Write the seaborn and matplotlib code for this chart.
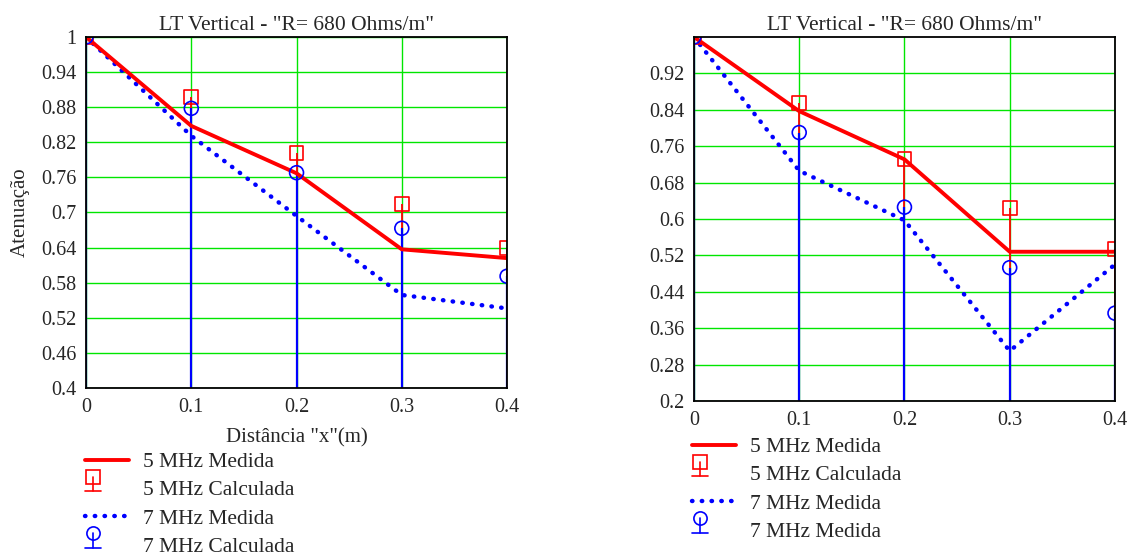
import numpy as np
import pandas as pd
import matplotlib
matplotlib.use("Agg")
import matplotlib.pyplot as plt
import seaborn as sns
from matplotlib.lines import Line2D
from matplotlib.legend_handler import HandlerBase

# Distance along the line (m)
distancia = [0.0, 0.1, 0.2, 0.3, 0.4]

# Left panel
esq_5mhz_medida = [1.000, 0.848, 0.767, 0.637, 0.622]
esq_5mhz_calculada = [1.000, 0.897, 0.801, 0.715, 0.639]
esq_7mhz_medida = [1.000, 0.831, 0.694, 0.559, 0.536]
esq_7mhz_calculada = [1.000, 0.878, 0.768, 0.673, 0.591]
esq_yticks = [0.4, 0.46, 0.52, 0.58, 0.64, 0.7, 0.76, 0.82, 0.88, 0.94, 1.0]
esq_yticklabels = ["0.4", "0.46", "0.52", "0.58", "0.64", "0.7", "0.76",
                   "0.82", "0.88", "0.94", "1"]
esq_labels = ["5 MHz Medida", "5 MHz Calculada", "7 MHz Medida", "7 MHz Calculada"]

# Right panel
dir_5mhz_medida = [1.000, 0.837, 0.731, 0.528, 0.528]
dir_5mhz_calculada = [1.000, 0.854, 0.731, 0.624, 0.535]
dir_7mhz_medida = [1.000, 0.706, 0.597, 0.310, 0.500]
dir_7mhz_calculada = [1.000, 0.790, 0.626, 0.493, 0.393]
dir_yticks = [0.2, 0.28, 0.36, 0.44, 0.52, 0.6, 0.68, 0.76, 0.84, 0.92]
dir_yticklabels = ["0.2", "0.28", "0.36", "0.44", "0.52", "0.6", "0.68",
                   "0.76", "0.84", "0.92"]
dir_labels = ["5 MHz Medida", "5 MHz Calculada", "7 MHz Medida", "7 MHz Medida"]

xticks = [0.0, 0.1, 0.2, 0.3, 0.4]
xticklabels = ["0", "0.1", "0.2", "0.3", "0.4"]
titulo = 'LT Vertical - "R= 680 Ohms/m"'

sns.set_style("white")
plt.rcParams["font.family"] = ["Liberation Serif", "DejaVu Serif"]
FS_TICK = 14.5
FS_TEXT = 15.5
GREEN = "#00e600"
DOTS = (0, (0.1, 2.1))
DOT_LW = 3.2


class HandlerStemMarker(HandlerBase):
    """Legend key: hollow marker sitting on a short stem with a foot."""

    def __init__(self, marker, color):
        super().__init__()
        self.marker = marker
        self.color = color

    def create_artists(self, legend, orig_handle, xdescent, ydescent,
                       width, height, fontsize, trans):
        cx = -xdescent + 0.18 * width
        mid = -ydescent + height / 2
        top = mid + 8.0
        base = mid - 2.5
        stem = Line2D([cx, cx], [base, top], color=self.color, lw=1.2,
                      transform=trans)
        foot = Line2D([cx - 6, cx + 6], [base, base], color=self.color,
                      lw=1.2, transform=trans)
        mk = Line2D([cx], [top], marker=self.marker, ms=9.5, mfc="none",
                    mec=self.color, mew=1.2, ls="none", transform=trans)
        return [stem, foot, mk]


def painel(ax, df, ymin, yticks, yticklabels):
    ax.set_xlim(0, 0.4)
    ax.set_ylim(ymin, 1.0)
    ax.set_xticks(xticks)
    ax.set_xticklabels(xticklabels)
    ax.set_yticks(yticks)
    ax.set_yticklabels(yticklabels)
    ax.tick_params(length=0, labelsize=FS_TICK, pad=7)
    ax.grid(True, color=GREEN, lw=1.0)
    ax.set_axisbelow(True)
    for s in ax.spines.values():
        s.set_color("black")
        s.set_linewidth(1.3)
        s.set_zorder(6)

    # stems of the calculated points
    ax.vlines(df["x"], ymin, df["c5"], colors="red", lw=1.3, zorder=3)
    ax.vlines(df["x"], ymin, df["c7"], colors="blue", lw=1.6, zorder=3.5)

    sns.lineplot(data=df, x="x", y="m7", ax=ax, color="blue", lw=DOT_LW,
                 estimator=None, sort=False, zorder=4)
    dotted = ax.get_lines()[-1]
    dotted.set_linestyle(DOTS)
    dotted.set_dash_capstyle("round")
    sns.lineplot(data=df, x="x", y="m5", ax=ax, color="red", lw=2.8,
                 estimator=None, sort=False, zorder=4.5)

    sns.scatterplot(data=df, x="x", y="c5", ax=ax, marker="s", s=100,
                    zorder=5)
    sns.scatterplot(data=df, x="x", y="c7", ax=ax, marker="o", s=100,
                    zorder=5)
    cols = ax.collections[-2:]
    for coll, c in zip(cols, ["red", "blue"]):
        coll.set_facecolor("none")
        coll.set_edgecolor(c)
        coll.set_linewidth(1.2)
    ax.set_xlabel("")
    ax.set_ylabel("")
    ax.set_title(titulo, fontsize=FS_TEXT, pad=5)


def legenda(fig, labels, anchor):
    h_line = Line2D([], [], color="red", lw=2.8)
    h_sq = Line2D([], [], color="red")
    h_dot = Line2D([], [], color="blue", lw=DOT_LW, ls=DOTS,
                   dash_capstyle="round")
    h_ci = Line2D([], [], color="blue")
    fig.legend([h_line, h_sq, h_dot, h_ci], labels, loc="upper left",
               bbox_to_anchor=anchor, frameon=False, fontsize=FS_TEXT,
               handlelength=2.05, handletextpad=0.66, labelspacing=0.38,
               borderpad=0, borderaxespad=0,
               handler_map={h_sq: HandlerStemMarker("s", "red"),
                            h_ci: HandlerStemMarker("o", "blue")})


fig = plt.figure(figsize=(11.41, 5.56), dpi=100)
ax1 = fig.add_axes([0.0754, 0.3022, 0.3690, 0.6313])
ax2 = fig.add_axes([0.6082, 0.2788, 0.3690, 0.6547])

df1 = pd.DataFrame({"x": distancia, "m5": esq_5mhz_medida, "c5": esq_5mhz_calculada,
                    "m7": esq_7mhz_medida, "c7": esq_7mhz_calculada})
df2 = pd.DataFrame({"x": distancia, "m5": dir_5mhz_medida, "c5": dir_5mhz_calculada,
                    "m7": dir_7mhz_medida, "c7": dir_7mhz_calculada})

painel(ax1, df1, 0.4, esq_yticks, esq_yticklabels)
painel(ax2, df2, 0.2, dir_yticks, dir_yticklabels)

ax1.set_ylabel("Atenuação", fontsize=15, labelpad=8)
ax1.set_xlabel('Distância "x"(m)', fontsize=15, labelpad=8)

legenda(fig, esq_labels, (0.0745, 0.187))
legenda(fig, dir_labels, (0.6065, 0.214))

fig.savefig("out.png", dpi=100)
